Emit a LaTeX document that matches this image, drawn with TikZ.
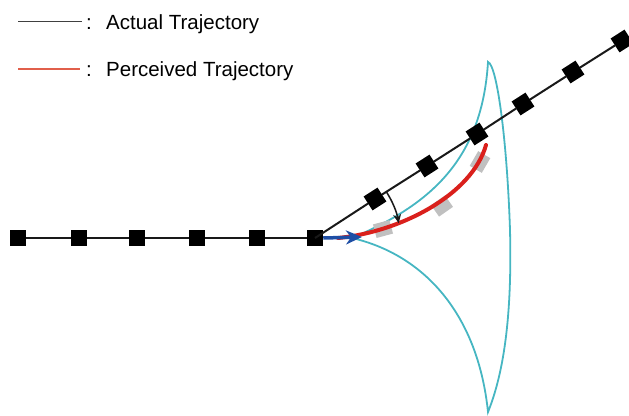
\documentclass[tikz,border=0pt]{standalone}
\usepackage{fontspec}
\setmainfont{Liberation Sans}
\usetikzlibrary{arrows.meta,calc}
\definecolor{tealc}{RGB}{70,182,194}
\definecolor{redc}{RGB}{218,32,28}
\definecolor{legred}{RGB}{225,95,75}
\definecolor{bluec}{RGB}{30,78,165}
\definecolor{grayc}{RGB}{192,192,192}
\definecolor{linec}{RGB}{25,25,25}
\begin{document}
\begin{tikzpicture}[x=1pt,y=-1pt,
  blk/.style={fill=black, minimum size=16.5pt, inner sep=0pt, outer sep=0pt},
  ghost/.style={fill=grayc, minimum width=17pt, minimum height=14pt, inner sep=0pt},
  traj/.style={draw=linec, line width=2pt},
  fan/.style={draw=tealc, line width=1.8pt},
  perc/.style={draw=redc, line width=4pt, line cap=round},
  legtext/.style={font=\fontsize{20.5}{24}\selectfont, text=black, anchor=base west, inner sep=0pt}]

\useasboundingbox (0,0) rectangle (629,415);

% legend
\coordinate (la1) at (18,21.5);
\coordinate (la2) at (82,21.5);
\coordinate (lb1) at (18,69);
\coordinate (lb2) at (80,69);
\draw[draw=black!75, line width=1.8pt] (la1) -- (la2);
\draw[draw=legred, line width=1.8pt] (lb1) -- (lb2);
\node[legtext] (c1) at (86,29) {:};
\node[legtext] (t1) at (106,29) {Actual Trajectory};
\node[legtext] (c2) at (86,76) {:};
\node[legtext] (t2) at (106,76) {Perceived Trajectory};

% fan-shaped uncertainty region
\coordinate (fs) at (352,238);
\coordinate (ftop) at (488,62);
\coordinate (fr) at (510,230);
\coordinate (fbot) at (488,412);
\draw[fan] (fs) .. controls (430,205) and (482,160) .. (ftop)
  .. controls (497,65) and (507,140) .. (fr)
  .. controls (512,310) and (505,370) .. (fbot)
  .. controls (478,315) and (425,255) .. (fs);

% actual trajectory squares
\node[blk] (h1) at (18,238) {};
\node[blk] (h2) at (79,238) {};
\node[blk] (h3) at (137,238) {};
\node[blk] (h4) at (197,238) {};
\node[blk] (h5) at (257,238) {};
\node[blk] (h6) at (315,238) {};
\node[blk, rotate=32.6] (d1) at (375,199) {};
\node[blk, rotate=32.6] (d2) at (427,166) {};
\node[blk, rotate=32.6] (d3) at (477,134) {};
\node[blk, rotate=32.6] (d4) at (523,104) {};
\node[blk, rotate=32.6] (d5) at (573,72) {};
\node[blk, rotate=32.6] (d6) at (622,41) {};
\coordinate (dend) at (629,37);

\draw[traj] (h1) -- (h2) -- (h3) -- (h4) -- (h5) -- (h6);
\draw[traj] (h6.center) -- (d1) -- (d2) -- (d3) -- (d4) -- (d5) -- (d6) -- (dend);

% perceived positions
\node[ghost, rotate=15] (g1) at (383,229) {};
\node[ghost, rotate=35] (g2) at (442,206) {};
\node[ghost, rotate=60] (g3) at (480,162) {};

% perceived trajectory
\coordinate (ps) at (338,238);
\coordinate (pe) at (486,145);
\draw[perc] (ps) .. controls (400,232) and (472,195) .. (pe);

% direction arrow
\coordinate (barrow) at (362,237);
\draw[bluec, line width=3.5pt, -{Stealth[length=16pt,width=14pt,inset=5pt]}] (h6.east) -- (barrow);

% angle arrow
\coordinate (arcS) at ($(h6.center)+(-32.6:85)$);
\draw[draw=linec, line width=1.5pt, -{Stealth[length=9pt,width=8pt]}] (arcS) arc[start angle=-32.6, end angle=-10, radius=85];

\end{tikzpicture}
\end{document}
